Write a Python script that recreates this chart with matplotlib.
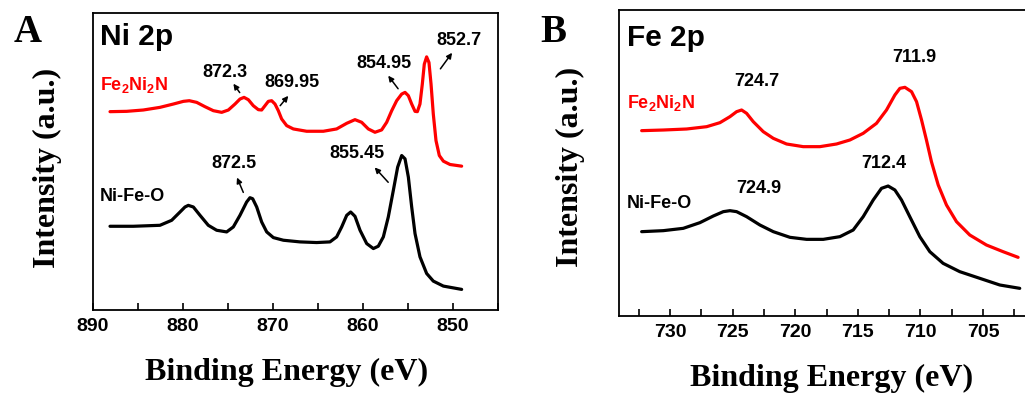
import matplotlib
matplotlib.use("Agg")
import matplotlib.pyplot as plt
from matplotlib.ticker import MultipleLocator

plt.rcParams['font.family'] = ['Liberation Sans', 'DejaVu Sans']
plt.rcParams['mathtext.fontset'] = 'custom'
plt.rcParams['mathtext.rm'] = 'Liberation Sans:bold'
plt.rcParams['mathtext.bf'] = 'Liberation Sans:bold'

W, H = 1025, 396

# ---- Panel A: Ni 2p (binding energy eV, intensity a.u.) ----
ni_fe2ni2n_e = [888.11, 886.26, 884.41, 882.56, 881.07, 879.96, 879.30, 878.48, 877.56, 876.63,
                875.70, 874.96, 874.22, 873.67, 873.22, 872.74, 872.19, 871.63, 871.26, 870.89,
                870.52, 870.15, 869.78, 869.41, 869.04, 868.48, 867.74, 866.26, 864.41, 862.93,
                861.81, 860.89, 860.15, 859.41, 858.67, 857.93, 857.37, 856.81, 856.26, 855.70,
                855.33, 854.96, 854.59, 854.22, 853.96, 853.67, 853.41, 853.19, 852.93, 852.67,
                852.44, 852.19, 851.89, 851.52, 851.07, 850.33, 849.04]
ni_fe2ni2n_i = [66.78, 66.89, 67.34, 68.23, 69.35, 70.25, 70.47, 69.91, 68.46, 67.11,
                66.55, 67.34, 69.35, 71.03, 71.59, 70.81, 68.79, 67.45, 67.34, 68.79,
                70.25, 70.47, 69.35, 67.11, 64.32, 62.08, 60.96, 60.18, 60.18, 60.96,
                62.86, 64.09, 63.20, 60.96, 59.84, 60.63, 63.20, 67.11, 70.47, 72.71,
                73.27, 72.15, 69.35, 66.89, 66.78, 69.35, 76.06, 82.77, 85.23, 83.33,
                76.06, 66.00, 57.05, 52.01, 50.11, 48.99, 48.43]

ni_nifeo_e = [888.11, 885.52, 882.56, 881.26, 880.33, 879.78, 879.41, 878.85, 878.11, 877.19,
              876.26, 875.15, 874.41, 873.67, 872.93, 872.56, 872.26, 871.81, 871.26, 870.70,
              869.96, 868.85, 867.00, 865.15, 863.67, 862.93, 862.37, 861.81, 861.37, 860.89,
              860.33, 859.59, 858.85, 858.30, 857.74, 857.19, 856.63, 856.15, 855.70, 855.33,
              854.96, 854.59, 854.22, 853.67, 852.93, 852.19, 851.07, 849.04]
ni_nifeo_i = [28.19, 28.19, 28.52, 30.20, 33.00, 34.68, 35.23, 34.68, 31.88, 28.52,
              26.85, 26.29, 27.96, 31.88, 36.35, 37.81, 37.47, 34.68, 29.64, 26.29,
              24.38, 23.49, 22.93, 22.71, 22.93, 24.61, 27.96, 31.88, 33.00, 31.54,
              26.85, 22.37, 20.69, 21.48, 24.61, 31.32, 40.27, 48.10, 52.01, 50.89,
              44.74, 34.68, 25.73, 17.90, 12.30, 9.73, 8.05, 6.94]

ni_labels = ['872.3', '869.95', '854.95', '852.7', '872.5', '855.45']

# ---- Panel B: Fe 2p ----
fe_fe2ni2n_e = [732.26, 730.53, 728.67, 727.07, 726.01, 725.21, 724.68, 724.28, 723.88, 723.35,
                722.55, 721.75, 720.69, 719.36, 718.03, 716.70, 715.63, 714.57, 713.51, 712.71,
                712.04, 711.64, 711.24, 710.71, 710.31, 709.91, 709.52, 709.12, 708.58, 707.92,
                707.12, 706.06, 704.73, 703.40, 702.20]
fe_fe2ni2n_i = [60.57, 60.78, 61.11, 61.87, 63.18, 65.14, 66.77, 67.32, 66.23, 63.51,
                60.24, 58.06, 56.21, 55.34, 55.34, 56.21, 57.52, 59.70, 62.96, 67.32,
                72.22, 74.40, 74.73, 73.31, 70.04, 64.05, 57.52, 50.43, 42.81, 36.27,
                30.83, 26.47, 23.20, 21.02, 19.17]

fe_nifeo_e = [732.26, 730.53, 728.94, 727.61, 726.54, 725.74, 725.21, 724.68, 723.88, 722.82,
              721.75, 720.42, 719.09, 717.76, 716.43, 715.37, 714.57, 713.77, 713.11, 712.58,
              712.04, 711.51, 710.85, 710.05, 709.25, 708.19, 706.86, 705.26, 703.66, 702.07]
fe_nifeo_i = [27.56, 27.89, 28.65, 30.50, 32.68, 34.10, 34.42, 34.10, 32.46, 29.74,
              27.56, 25.71, 25.05, 25.05, 25.93, 28.10, 32.46, 37.91, 41.72, 42.48,
              41.18, 37.91, 32.46, 25.93, 21.02, 17.21, 14.49, 12.31, 10.13, 9.04]

fe_labels = ['724.7', '711.9', '712.4', '724.9']

sample_red = r'Fe$_{\mathbf{2}}$Ni$_{\mathbf{2}}$N'
sample_black = 'Ni-Fe-O'
RED = '#ff0000'


def fx(px):
    return px / W


def fy(py):
    return 1 - py / H


fig = plt.figure(figsize=(W / 100, H / 100), dpi=100)

line_kw = dict(lw=2.3, solid_joinstyle='round', solid_capstyle='round')

# panel A axes (pixel box 93..498 x 13..310)
axA = fig.add_axes([fx(93), fy(310), fx(498 - 93), (310 - 13) / H])
axA.plot(ni_fe2ni2n_e, ni_fe2ni2n_i, color=RED, **line_kw)
axA.plot(ni_nifeo_e, ni_nifeo_i, color='black', **line_kw)
axA.set_xlim(890, 845)
axA.set_ylim(0, 100)
axA.xaxis.set_major_locator(MultipleLocator(10))
axA.xaxis.set_minor_locator(MultipleLocator(5))

# panel B axes (pixel box 619..1027 x 10..316), right side cut by the image edge
axB = fig.add_axes([fx(619), fy(316), fx(1027 - 619), (316 - 10) / H])
axB.plot(fe_fe2ni2n_e, fe_fe2ni2n_i, color=RED, **line_kw)
axB.plot(fe_nifeo_e, fe_nifeo_i, color='black', **line_kw)
axB.set_xlim(734.07, 701.49)
axB.set_ylim(0, 100)
axB.xaxis.set_major_locator(MultipleLocator(5))
axB.xaxis.set_minor_locator(MultipleLocator(2.5))

for ax in (axA, axB):
    ax.set_yticks([])
    ax.tick_params(axis='x', which='both', direction='in', labelsize=14, pad=6)
    ax.tick_params(axis='x', which='major', length=5, width=1.2)
    ax.tick_params(axis='x', which='minor', length=5, width=1.2)
    for lab in ax.get_xticklabels():
        lab.set_fontweight('bold')
    for s in ax.spines.values():
        s.set_linewidth(1.3)

# annotation labels, panel A
ni_pos = [(875.3, 79.9), (867.9, 76.5), (857.7, 82.9), (849.3, 90.9), (874.3, 49.3), (860.7, 52.7)]
ni_arrows = [((873.7, 73.2), (874.4, 76.2)), ((869.2, 68.8), (868.3, 72.1)),
             ((856.1, 74.5), (857.2, 78.9)), ((851.4, 81.2), (850.1, 86.6)),
             ((873.3, 39.6), (874.0, 44.6)), ((857.2, 43.0), (858.7, 48.0))]
for txt, (x, y) in zip(ni_labels, ni_pos):
    axA.text(x, y, txt, ha='center', va='center', fontsize=13, fontweight='bold')
for tail, head in ni_arrows:
    axA.annotate('', xy=head, xytext=tail,
                 arrowprops=dict(arrowstyle='-|>', color='black', lw=1.1,
                                 mutation_scale=8, shrinkA=0, shrinkB=0))

fe_pos = [(723.1, 76.5), (710.5, 84.6), (712.9, 50.0), (722.9, 41.8)]
for txt, (x, y) in zip(fe_labels, fe_pos):
    axB.text(x, y, txt, ha='center', va='center', fontsize=13, fontweight='bold')

# titles inside the frames and sample names
fig.text(fx(100), fy(37), 'Ni 2p', fontsize=21.5, fontweight='bold', va='center')
fig.text(fx(627), fy(38), 'Fe 2p', fontsize=21.5, fontweight='bold', va='center')
fig.text(fx(100), fy(85), sample_red, color=RED, fontsize=13, fontweight='bold', va='center')
fig.text(fx(100), fy(196), sample_black, color='black', fontsize=13, fontweight='bold', va='center')
fig.text(fx(627), fy(103), sample_red, color=RED, fontsize=13, fontweight='bold', va='center')
fig.text(fx(627), fy(203), sample_black, color='black', fontsize=13, fontweight='bold', va='center')

# panel letters and axis titles (serif)
serif = dict(family='Liberation Serif', fontweight='bold')
fig.text(fx(28), fy(33), 'A', fontsize=28, ha='center', va='center', **serif)
fig.text(fx(553), fy(33), 'B', fontsize=28, ha='center', va='center', **serif)
fig.text(fx(47), fy(168), 'Intensity (a.u.)', fontsize=23, rotation=90,
         ha='center', va='center', **serif)
fig.text(fx(570), fy(167), 'Intensity (a.u.)', fontsize=23, rotation=90,
         ha='center', va='center', **serif)
fig.text(fx(287), fy(372), 'Binding Energy (eV)', fontsize=23, ha='center', va='center', **serif)
fig.text(fx(832), fy(378), 'Binding Energy (eV)', fontsize=23, ha='center', va='center', **serif)

fig.savefig('out.png', dpi=100)
